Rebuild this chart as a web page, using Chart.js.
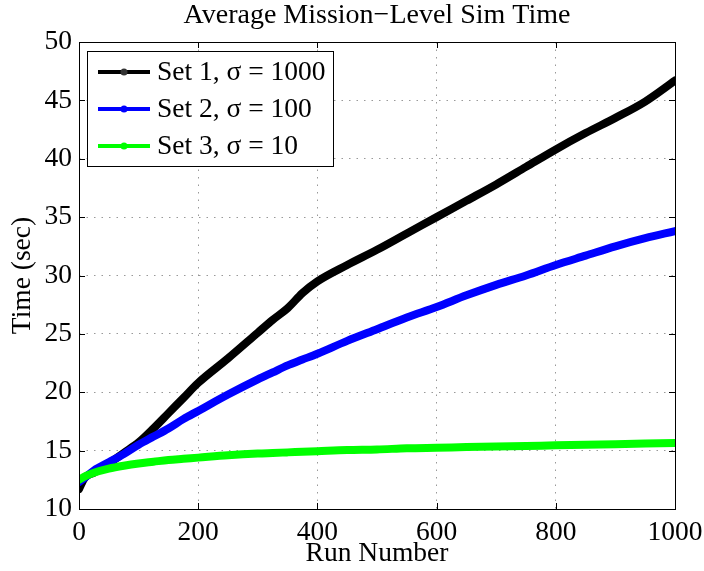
<!DOCTYPE html>
<html>
<head>
<meta charset="utf-8">
<script src="https://cdn.jsdelivr.net/npm/chart.js@4"></script>
<style>
  html, body { margin: 0; padding: 0; background: #fff; }
  #wrap { width: 704px; height: 571px; position: relative; }
</style>
</head>
<body>
<div id="wrap"><canvas id="chart" width="704" height="571"></canvas></div>
<script>
// values
const runs = [0, 10, 25, 50, 75, 100, 125, 150, 175, 200, 250, 300, 325, 350, 375, 400, 450, 500, 550, 600, 650, 700, 750, 800, 850, 900, 950, 1000];
const set1 = [11.7, 12.7, 13.1, 13.9, 14.8, 15.7, 16.9, 18.2, 19.5, 20.8, 22.9, 25.1, 26.2, 27.2, 28.5, 29.5, 30.9, 32.2, 33.6, 35.0, 36.4, 37.8, 39.3, 40.8, 42.2, 43.5, 44.9, 46.7];
const set2 = [12.3, 12.7, 13.3, 14.0, 14.7, 15.5, 16.2, 16.9, 17.7, 18.4, 19.8, 21.1, 21.7, 22.3, 22.8, 23.3, 24.4, 25.4, 26.4, 27.3, 28.3, 29.2, 30.0, 30.9, 31.7, 32.5, 33.2, 33.8];
const set3 = [12.5, 12.8, 13.1, 13.45, 13.7, 13.9, 14.05, 14.2, 14.3, 14.4, 14.6, 14.75, 14.8, 14.85, 14.9, 14.95, 15.05, 15.1, 15.2, 15.25, 15.3, 15.35, 15.4, 15.45, 15.5, 15.55, 15.6, 15.65];
const labels = ["Set 1, \u03c3 = 1000", "Set 2, \u03c3 = 100", "Set 3, \u03c3 = 10"];
const colors = ["#000000", "#0000ff", "#00ff00"];
const xTicks = [0, 200, 400, 600, 800, 1000];
const yTicks = [10, 15, 20, 25, 30, 35, 40, 45, 50];

const FONT = '"Liberation Serif", "Times New Roman", serif';

function pts(ys) {
  return runs.map((x, i) => ({ x: x, y: ys[i] }));
}

// box, inward ticks, titles and legend, the MATLAB way
const decor = {
  id: 'decor',
  afterDraw(chart) {
    const ctx = chart.ctx;
    const a = chart.chartArea;
    const xs = chart.scales.x, ys = chart.scales.y;
    ctx.save();
    ctx.strokeStyle = '#000';
    ctx.lineWidth = 1;
    ctx.beginPath();
    xTicks.forEach(v => {
      const px = Math.round(xs.getPixelForValue(v)) + 0.5;
      ctx.moveTo(px, a.bottom); ctx.lineTo(px, a.bottom - 6);
      ctx.moveTo(px, a.top); ctx.lineTo(px, a.top + 6);
    });
    yTicks.forEach(v => {
      const py = Math.round(ys.getPixelForValue(v)) + 0.5;
      ctx.moveTo(a.left, py); ctx.lineTo(a.left + 6, py);
      ctx.moveTo(a.right, py); ctx.lineTo(a.right - 6, py);
    });
    ctx.stroke();
    ctx.strokeRect(Math.round(a.left) + 0.5, Math.round(a.top) + 0.5,
      Math.round(a.right - a.left), Math.round(a.bottom - a.top));

    // titles
    ctx.fillStyle = '#000';
    ctx.font = '28px ' + FONT;
    ctx.textAlign = 'center';
    ctx.textBaseline = 'middle';
    ctx.fillText('Average Mission\u2212Level Sim Time', (a.left + a.right) / 2, 16);
    ctx.font = '27.5px ' + FONT;
    ctx.fillText('Run Number', (a.left + a.right) / 2, 554);
    ctx.save();
    ctx.translate(23, (a.top + a.bottom) / 2);
    ctx.rotate(-Math.PI / 2);
    ctx.fillText('Time (sec)', 0, 0);
    ctx.restore();

    // legend box
    const lx = 87, ly = 51, lw = 246, lh = 115;
    ctx.fillStyle = '#fff';
    ctx.fillRect(lx, ly, lw, lh);
    ctx.strokeStyle = '#000';
    ctx.lineWidth = 1;
    ctx.strokeRect(lx + 0.5, ly + 0.5, lw, lh);
    ctx.font = '27.5px ' + FONT;
    labels.forEach((t, i) => {
      const y = 72 + i * 37;
      ctx.strokeStyle = colors[i];
      ctx.lineWidth = 4;
      ctx.beginPath();
      ctx.moveTo(98, y); ctx.lineTo(150, y);
      ctx.stroke();
      ctx.fillStyle = i === 0 ? '#333' : colors[i];
      ctx.beginPath();
      ctx.arc(124, y, 3.5, 0, Math.PI * 2);
      ctx.fill();
      ctx.fillStyle = '#000';
      ctx.textAlign = 'left';
      ctx.fillText(t, 157, y + 1);
    });
    ctx.restore();
  }
};

const datasets = [set1, set2, set3].map((ys, i) => ({
  label: labels[i],
  data: pts(ys),
  borderColor: colors[i],
  backgroundColor: colors[i],
  borderWidth: 8,
  borderCapStyle: 'round',
  borderJoinStyle: 'round',
  pointRadius: 0,
  cubicInterpolationMode: 'monotone',
  order: 3 - i
}));

new Chart(document.getElementById('chart'), {
  type: 'line',
  data: { datasets: datasets },
  options: {
    responsive: false,
    animation: false,
    layout: { padding: { top: 42, right: 29, left: 0, bottom: 0 } },
    plugins: {
      legend: { display: false },
      title: { display: false },
      tooltip: { enabled: false }
    },
    scales: {
      x: {
        type: 'linear',
        min: 0, max: 1000,
        afterBuildTicks: s => { s.ticks = xTicks.map(v => ({ value: v })); },
        afterFit: s => { s.height = 62; s.paddingLeft = 0; s.paddingRight = 0; },
        grid: { color: '#999', drawTicks: false },
        border: { display: false, dash: [1.5, 6] },
        ticks: {
          color: '#000', padding: 7, maxRotation: 0,
          font: { family: FONT, size: 27.5 },
          callback: v => String(v)
        }
      },
      y: {
        min: 10, max: 50,
        afterBuildTicks: s => { s.ticks = yTicks.map(v => ({ value: v })); },
        afterFit: s => { s.width = 79; s.paddingTop = 0; s.paddingBottom = 0; },
        grid: { color: '#999', drawTicks: false },
        border: { display: false, dash: [1.5, 6] },
        ticks: {
          color: '#000', padding: 7,
          font: { family: FONT, size: 27.5 },
          callback: v => String(v)
        }
      }
    }
  },
  plugins: [decor]
});
</script>
</body>
</html>
